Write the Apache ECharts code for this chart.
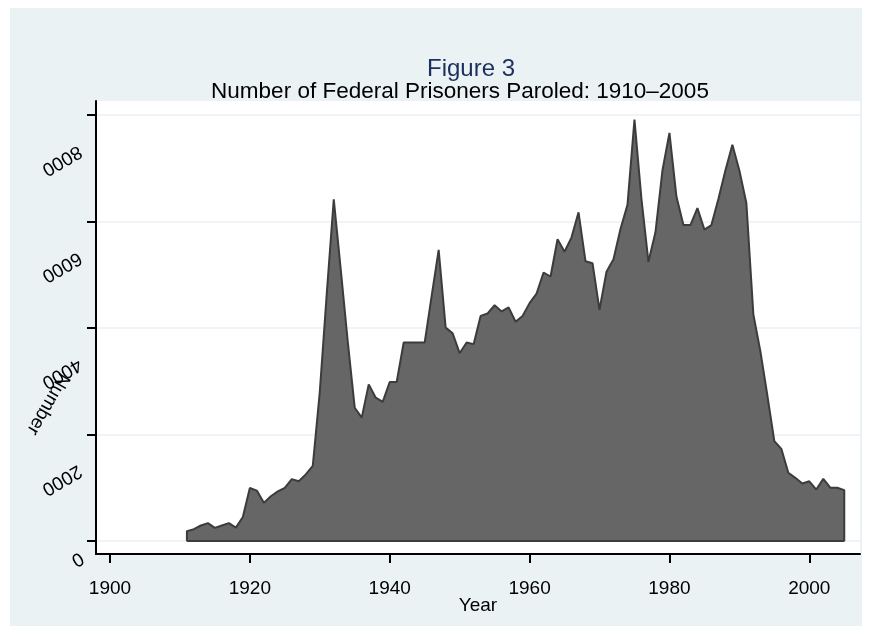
<!DOCTYPE html>
<html>
<head>
<meta charset="utf-8">
<title>Figure 3</title>
<script src="https://cdn.jsdelivr.net/npm/echarts@6/dist/echarts.min.js"></script>
<style>
  html, body { margin: 0; padding: 0; background: #ffffff; }
  #chart { width: 870px; height: 635px; }
</style>
</head>
<body>
<div id="chart"></div>
<script>
// years on the x axis
const years = [
  1911, 1912, 1913, 1914, 1915, 1916, 1917, 1918, 1919, 1920,
  1921, 1922, 1923, 1924, 1925, 1926, 1927, 1928, 1929, 1930,
  1931, 1932, 1933, 1934, 1935, 1936, 1937, 1938, 1939, 1940,
  1941, 1942, 1943, 1944, 1945, 1946, 1947, 1948, 1949, 1950,
  1951, 1952, 1953, 1954, 1955, 1956, 1957, 1958, 1959, 1960,
  1961, 1962, 1963, 1964, 1965, 1966, 1967, 1968, 1969, 1970,
  1971, 1972, 1973, 1974, 1975, 1976, 1977, 1978, 1979, 1980,
  1981, 1982, 1983, 1984, 1985, 1986, 1987, 1988, 1989, 1990,
  1991, 1992, 1993, 1994, 1995, 1996, 1997, 1998, 1999, 2000,
  2001, 2002, 2003, 2004, 2005
];

// number of federal prisoners paroled
const paroled = [
  190, 225, 295, 340, 250, 295, 340, 255, 455, 1000,
  950, 720, 845, 935, 1000, 1165, 1125, 1255, 1415, 2800,
  4650, 6420, 5100, 3750, 2505, 2320, 2945, 2695, 2615, 2990,
  2990, 3730, 3730, 3730, 3730, 4605, 5470, 4010, 3905, 3530,
  3730, 3700, 4230, 4275, 4430, 4315, 4390, 4120, 4230, 4470,
  4650, 5045, 4970, 5670, 5435, 5705, 6175, 5255, 5220, 4345,
  5060, 5295, 5860, 6315, 7915, 6425, 5245, 5800, 6960, 7665,
  6470, 5935, 5935, 6255, 5850, 5935, 6425, 6960, 7445, 6960,
  6350, 4260, 3570, 2740, 1880, 1735, 1285, 1190, 1085, 1125,
  970, 1170, 1005, 1005, 960
];

// tick labels
const xTicks = [1900, 1920, 1940, 1960, 1980, 2000];
const yTicks = [0, 2000, 4000, 6000, 8000];
const yTicksZero = [0];
const yTicksUpper = [2000, 4000, 6000, 8000];

const font = 'Liberation Sans, Arial, Helvetica, sans-serif';
const bg = '#EAF2F3';

const chart = echarts.init(document.getElementById('chart'));

// area outline: close the polygon down to zero at both ends
const first = years[0];
const last = years[years.length - 1];
const seriesData = [[first, 0]]
  .concat(years.map((y, i) => [y, paroled[i]]))
  .concat([[last, 0]]);

const plain = v => String(v);

// stata-style upside-down y labels, pushed down along the axis
const yLabelBase = {
  rotate: 210,
  align: 'left',
  verticalAlign: 'bottom',
  fontSize: 19,
  fontFamily: font,
  color: '#000',
  formatter: plain
};

const option = {
  animation: false,
  backgroundColor: '#ffffff',
  title: [
    {
      text: 'Figure 3',
      left: 466,
      top: 52,
      textAlign: 'center',
      textStyle: { fontSize: 24, fontWeight: 'normal', color: '#1C2F5E', fontFamily: font }
    },
    {
      text: 'Number of Federal Prisoners Paroled: 1910–2005',
      left: 455,
      top: 75,
      textAlign: 'center',
      textStyle: { fontSize: 22.5, fontWeight: 'normal', color: '#000', fontFamily: font }
    }
  ],
  graphic: [
    {
      type: 'rect',
      z: -100,
      silent: true,
      shape: { x: 10, y: 8, width: 852, height: 618 },
      style: { fill: bg }
    },
    {
      type: 'text',
      x: 48,
      y: 404,
      rotation: 240 * Math.PI / 180,
      silent: true,
      style: {
        text: 'Number',
        fontSize: 19,
        fontFamily: font,
        fill: '#000',
        align: 'center',
        verticalAlign: 'middle'
      }
    }
  ],
  grid: {
    left: 96,
    right: 10,
    top: 101,
    bottom: 81,
    show: true,
    backgroundColor: '#ffffff',
    borderWidth: 0,
    outerBoundsMode: 'none'
  },
  xAxis: {
    type: 'value',
    min: 1898,
    max: 2007.25,
    name: 'Year',
    nameLocation: 'middle',
    nameGap: 42,
    nameMoveOverlap: false,
    nameTextStyle: { fontSize: 19, fontFamily: font, color: '#000' },
    axisLine: { show: true, onZero: false, lineStyle: { color: '#000', width: 2 } },
    axisTick: { show: true, customValues: xTicks, length: 9, lineStyle: { color: '#000', width: 2 } },
    axisLabel: { customValues: xTicks, margin: 25, fontSize: 19, fontFamily: font, color: '#000', formatter: plain },
    splitLine: { show: false }
  },
  yAxis: [
    {
      type: 'value',
      min: -240,
      max: 8265,
      position: 'left',
      axisLine: { show: true, lineStyle: { color: '#000', width: 2 } },
      axisTick: { show: true, customValues: yTicks, length: 9, lineStyle: { color: '#000', width: 2 } },
      axisLabel: Object.assign({ customValues: yTicksZero, margin: 23, lineHeight: 35 }, yLabelBase),
      splitLine: { show: true, lineStyle: { color: bg, width: 1.5 } }
    },
    {
      type: 'value',
      min: -240,
      max: 8265,
      position: 'left',
      axisLine: { show: false },
      axisTick: { show: false },
      axisLabel: Object.assign({ customValues: yTicksUpper, margin: 36, lineHeight: 80 }, yLabelBase),
      splitLine: { show: false }
    }
  ],
  series: [
    {
      name: 'Paroled',
      type: 'line',
      data: seriesData,
      yAxisIndex: 0,
      symbol: 'none',
      lineStyle: { color: '#3c3c3c', width: 2 },
      areaStyle: { color: '#666666', opacity: 1 },
      markLine: {
        silent: true,
        symbol: 'none',
        label: { show: false },
        lineStyle: { color: '#3c3c3c', width: 2, type: 'solid' },
        data: [[{ coord: [first, 0] }, { coord: [last, 0] }]]
      }
    }
  ]
};

chart.setOption(option);
</script>
</body>
</html>
